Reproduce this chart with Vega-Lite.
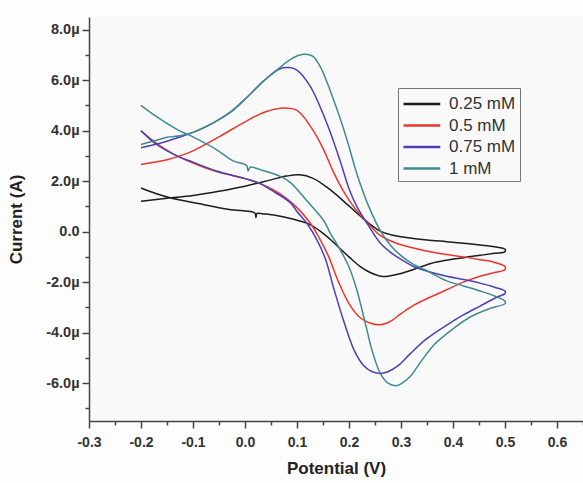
{
  "$schema": "https://vega.github.io/schema/vega-lite/v6.json",
  "width": 494,
  "height": 404,
  "autosize": {"type": "none"},
  "padding": {"left": 89, "top": 17, "right": 0, "bottom": 62},
  "background": "#fdfdfd",
  "config": {
    "view": {"stroke": null, "fill": "#f9f9f9"},
    "font": "Liberation Sans"
  },
  "datasets": {
    "cv": [
      {"s":"0.25 mM","i":0,"E":-0.2,"I":1.2},{"s":"0.25 mM","i":1,"E":-0.15,"I":1.32},{"s":"0.25 mM","i":2,"E":-0.1,"I":1.43},{"s":"0.25 mM","i":3,"E":-0.05,"I":1.6},{"s":"0.25 mM","i":4,"E":0.0,"I":1.8},{"s":"0.25 mM","i":5,"E":0.05,"I":2.05},{"s":"0.25 mM","i":6,"E":0.08,"I":2.2},{"s":"0.25 mM","i":7,"E":0.105,"I":2.25},{"s":"0.25 mM","i":8,"E":0.13,"I":2.12},{"s":"0.25 mM","i":9,"E":0.16,"I":1.72},{"s":"0.25 mM","i":10,"E":0.19,"I":1.2},{"s":"0.25 mM","i":11,"E":0.215,"I":0.74},{"s":"0.25 mM","i":12,"E":0.24,"I":0.3},{"s":"0.25 mM","i":13,"E":0.26,"I":0.02},{"s":"0.25 mM","i":14,"E":0.28,"I":-0.12},{"s":"0.25 mM","i":15,"E":0.3,"I":-0.2},{"s":"0.25 mM","i":16,"E":0.324,"I":-0.27},{"s":"0.25 mM","i":17,"E":0.35,"I":-0.33},{"s":"0.25 mM","i":18,"E":0.388,"I":-0.4},{"s":"0.25 mM","i":19,"E":0.42,"I":-0.46},{"s":"0.25 mM","i":20,"E":0.452,"I":-0.53},{"s":"0.25 mM","i":21,"E":0.48,"I":-0.6},{"s":"0.25 mM","i":22,"E":0.5,"I":-0.7},
      {"s":"0.25 mM","i":23,"E":0.5,"I":-0.8},{"s":"0.25 mM","i":24,"E":0.48,"I":-0.86},{"s":"0.25 mM","i":25,"E":0.452,"I":-0.94},{"s":"0.25 mM","i":26,"E":0.42,"I":-1.03},{"s":"0.25 mM","i":27,"E":0.388,"I":-1.13},{"s":"0.25 mM","i":28,"E":0.356,"I":-1.27},{"s":"0.25 mM","i":29,"E":0.324,"I":-1.5},{"s":"0.25 mM","i":30,"E":0.3,"I":-1.66},{"s":"0.25 mM","i":31,"E":0.28,"I":-1.75},{"s":"0.25 mM","i":32,"E":0.265,"I":-1.78},{"s":"0.25 mM","i":33,"E":0.25,"I":-1.7},{"s":"0.25 mM","i":34,"E":0.235,"I":-1.56},{"s":"0.25 mM","i":35,"E":0.221,"I":-1.38},{"s":"0.25 mM","i":36,"E":0.2,"I":-1.0},{"s":"0.25 mM","i":37,"E":0.183,"I":-0.68},{"s":"0.25 mM","i":38,"E":0.17,"I":-0.42},{"s":"0.25 mM","i":39,"E":0.151,"I":-0.08},{"s":"0.25 mM","i":40,"E":0.125,"I":0.28},{"s":"0.25 mM","i":41,"E":0.087,"I":0.52},{"s":"0.25 mM","i":42,"E":0.06,"I":0.64},{"s":"0.25 mM","i":43,"E":0.035,"I":0.7},{"s":"0.25 mM","i":44,"E":0.023,"I":0.72},{"s":"0.25 mM","i":45,"E":0.021,"I":0.56},{"s":"0.25 mM","i":46,"E":0.019,"I":0.74},{"s":"0.25 mM","i":47,"E":-0.03,"I":0.88},{"s":"0.25 mM","i":48,"E":-0.087,"I":1.1},{"s":"0.25 mM","i":49,"E":-0.144,"I":1.34},{"s":"0.25 mM","i":50,"E":-0.17,"I":1.5},{"s":"0.25 mM","i":51,"E":-0.2,"I":1.73},

      {"s":"0.5 mM","i":0,"E":-0.2,"I":2.66},{"s":"0.5 mM","i":1,"E":-0.15,"I":2.85},{"s":"0.5 mM","i":2,"E":-0.125,"I":3.0},{"s":"0.5 mM","i":3,"E":-0.1,"I":3.2},{"s":"0.5 mM","i":4,"E":-0.05,"I":3.75},{"s":"0.5 mM","i":5,"E":0.0,"I":4.35},{"s":"0.5 mM","i":6,"E":0.04,"I":4.75},{"s":"0.5 mM","i":7,"E":0.075,"I":4.9},{"s":"0.5 mM","i":8,"E":0.1,"I":4.8},{"s":"0.5 mM","i":9,"E":0.125,"I":4.2},{"s":"0.5 mM","i":10,"E":0.15,"I":3.3},{"s":"0.5 mM","i":11,"E":0.167,"I":2.5},{"s":"0.5 mM","i":12,"E":0.18,"I":1.95},{"s":"0.5 mM","i":13,"E":0.2,"I":1.25},{"s":"0.5 mM","i":14,"E":0.224,"I":0.6},{"s":"0.5 mM","i":15,"E":0.24,"I":0.25},{"s":"0.5 mM","i":16,"E":0.26,"I":-0.15},{"s":"0.5 mM","i":17,"E":0.29,"I":-0.45},{"s":"0.5 mM","i":18,"E":0.324,"I":-0.65},{"s":"0.5 mM","i":19,"E":0.356,"I":-0.8},{"s":"0.5 mM","i":20,"E":0.388,"I":-0.91},{"s":"0.5 mM","i":21,"E":0.42,"I":-1.0},{"s":"0.5 mM","i":22,"E":0.452,"I":-1.11},{"s":"0.5 mM","i":23,"E":0.48,"I":-1.22},{"s":"0.5 mM","i":24,"E":0.5,"I":-1.38},
      {"s":"0.5 mM","i":25,"E":0.5,"I":-1.5},{"s":"0.5 mM","i":26,"E":0.48,"I":-1.62},{"s":"0.5 mM","i":27,"E":0.452,"I":-1.77},{"s":"0.5 mM","i":28,"E":0.42,"I":-2.0},{"s":"0.5 mM","i":29,"E":0.388,"I":-2.3},{"s":"0.5 mM","i":30,"E":0.356,"I":-2.6},{"s":"0.5 mM","i":31,"E":0.324,"I":-2.92},{"s":"0.5 mM","i":32,"E":0.3,"I":-3.25},{"s":"0.5 mM","i":33,"E":0.28,"I":-3.55},{"s":"0.5 mM","i":34,"E":0.26,"I":-3.69},{"s":"0.5 mM","i":35,"E":0.24,"I":-3.62},{"s":"0.5 mM","i":36,"E":0.221,"I":-3.4},{"s":"0.5 mM","i":37,"E":0.2,"I":-2.85},{"s":"0.5 mM","i":38,"E":0.18,"I":-2.0},{"s":"0.5 mM","i":39,"E":0.16,"I":-0.95},{"s":"0.5 mM","i":40,"E":0.14,"I":-0.15},{"s":"0.5 mM","i":41,"E":0.125,"I":0.35},{"s":"0.5 mM","i":42,"E":0.1,"I":0.95},{"s":"0.5 mM","i":43,"E":0.067,"I":1.5},{"s":"0.5 mM","i":44,"E":0.03,"I":1.9},{"s":"0.5 mM","i":45,"E":0.0,"I":2.1},{"s":"0.5 mM","i":46,"E":-0.055,"I":2.38},{"s":"0.5 mM","i":47,"E":-0.1,"I":2.72},{"s":"0.5 mM","i":48,"E":-0.131,"I":3.0},{"s":"0.5 mM","i":49,"E":-0.17,"I":3.5},{"s":"0.5 mM","i":50,"E":-0.2,"I":3.98},

      {"s":"0.75 mM","i":0,"E":-0.2,"I":3.32},{"s":"0.75 mM","i":1,"E":-0.15,"I":3.58},{"s":"0.75 mM","i":2,"E":-0.125,"I":3.75},{"s":"0.75 mM","i":3,"E":-0.1,"I":3.93},{"s":"0.75 mM","i":4,"E":-0.061,"I":4.31},{"s":"0.75 mM","i":5,"E":-0.03,"I":4.7},{"s":"0.75 mM","i":6,"E":0.003,"I":5.3},{"s":"0.75 mM","i":7,"E":0.035,"I":5.95},{"s":"0.75 mM","i":8,"E":0.067,"I":6.45},{"s":"0.75 mM","i":9,"E":0.085,"I":6.5},{"s":"0.75 mM","i":10,"E":0.1,"I":6.4},{"s":"0.75 mM","i":11,"E":0.125,"I":5.77},{"s":"0.75 mM","i":12,"E":0.157,"I":4.31},{"s":"0.75 mM","i":13,"E":0.183,"I":2.8},{"s":"0.75 mM","i":14,"E":0.2,"I":1.7},{"s":"0.75 mM","i":15,"E":0.215,"I":1.0},{"s":"0.75 mM","i":16,"E":0.234,"I":0.35},{"s":"0.75 mM","i":17,"E":0.26,"I":-0.45},{"s":"0.75 mM","i":18,"E":0.28,"I":-0.82},{"s":"0.75 mM","i":19,"E":0.3,"I":-1.1},{"s":"0.75 mM","i":20,"E":0.324,"I":-1.38},{"s":"0.75 mM","i":21,"E":0.356,"I":-1.6},{"s":"0.75 mM","i":22,"E":0.388,"I":-1.77},{"s":"0.75 mM","i":23,"E":0.42,"I":-1.9},{"s":"0.75 mM","i":24,"E":0.452,"I":-2.04},{"s":"0.75 mM","i":25,"E":0.48,"I":-2.2},{"s":"0.75 mM","i":26,"E":0.5,"I":-2.35},
      {"s":"0.75 mM","i":27,"E":0.5,"I":-2.45},{"s":"0.75 mM","i":28,"E":0.484,"I":-2.6},{"s":"0.75 mM","i":29,"E":0.452,"I":-2.95},{"s":"0.75 mM","i":30,"E":0.42,"I":-3.3},{"s":"0.75 mM","i":31,"E":0.388,"I":-3.7},{"s":"0.75 mM","i":32,"E":0.349,"I":-4.25},{"s":"0.75 mM","i":33,"E":0.317,"I":-4.85},{"s":"0.75 mM","i":34,"E":0.295,"I":-5.3},{"s":"0.75 mM","i":35,"E":0.275,"I":-5.55},{"s":"0.75 mM","i":36,"E":0.26,"I":-5.62},{"s":"0.75 mM","i":37,"E":0.245,"I":-5.55},{"s":"0.75 mM","i":38,"E":0.228,"I":-5.3},{"s":"0.75 mM","i":39,"E":0.21,"I":-4.7},{"s":"0.75 mM","i":40,"E":0.189,"I":-3.49},{"s":"0.75 mM","i":41,"E":0.17,"I":-2.2},{"s":"0.75 mM","i":42,"E":0.155,"I":-1.1},{"s":"0.75 mM","i":43,"E":0.138,"I":-0.32},{"s":"0.75 mM","i":44,"E":0.12,"I":0.3},{"s":"0.75 mM","i":45,"E":0.1,"I":0.8},{"s":"0.75 mM","i":46,"E":0.087,"I":1.15},{"s":"0.75 mM","i":47,"E":0.05,"I":1.65},{"s":"0.75 mM","i":48,"E":0.029,"I":1.9},{"s":"0.75 mM","i":49,"E":0.0,"I":2.1},{"s":"0.75 mM","i":50,"E":-0.055,"I":2.4},{"s":"0.75 mM","i":51,"E":-0.1,"I":2.75},{"s":"0.75 mM","i":52,"E":-0.131,"I":3.0},{"s":"0.75 mM","i":53,"E":-0.17,"I":3.45},{"s":"0.75 mM","i":54,"E":-0.2,"I":4.0},

      {"s":"1 mM","i":0,"E":-0.2,"I":3.45},{"s":"1 mM","i":1,"E":-0.17,"I":3.62},{"s":"1 mM","i":2,"E":-0.15,"I":3.74},{"s":"1 mM","i":3,"E":-0.125,"I":3.8},{"s":"1 mM","i":4,"E":-0.1,"I":3.93},{"s":"1 mM","i":5,"E":-0.061,"I":4.31},{"s":"1 mM","i":6,"E":-0.03,"I":4.7},{"s":"1 mM","i":7,"E":0.003,"I":5.3},{"s":"1 mM","i":8,"E":0.035,"I":5.95},{"s":"1 mM","i":9,"E":0.067,"I":6.5},{"s":"1 mM","i":10,"E":0.09,"I":6.85},{"s":"1 mM","i":11,"E":0.112,"I":7.02},{"s":"1 mM","i":12,"E":0.13,"I":6.95},{"s":"1 mM","i":13,"E":0.144,"I":6.56},{"s":"1 mM","i":14,"E":0.17,"I":5.24},{"s":"1 mM","i":15,"E":0.196,"I":3.65},{"s":"1 mM","i":16,"E":0.212,"I":2.5},{"s":"1 mM","i":17,"E":0.221,"I":1.93},{"s":"1 mM","i":18,"E":0.24,"I":0.9},{"s":"1 mM","i":19,"E":0.26,"I":0.05},{"s":"1 mM","i":20,"E":0.28,"I":-0.55},{"s":"1 mM","i":21,"E":0.3,"I":-0.95},{"s":"1 mM","i":22,"E":0.324,"I":-1.3},{"s":"1 mM","i":23,"E":0.345,"I":-1.5},{"s":"1 mM","i":24,"E":0.388,"I":-1.95},{"s":"1 mM","i":25,"E":0.42,"I":-2.15},{"s":"1 mM","i":26,"E":0.452,"I":-2.35},{"s":"1 mM","i":27,"E":0.48,"I":-2.55},{"s":"1 mM","i":28,"E":0.5,"I":-2.75},
      {"s":"1 mM","i":29,"E":0.5,"I":-2.85},{"s":"1 mM","i":30,"E":0.47,"I":-3.05},{"s":"1 mM","i":31,"E":0.433,"I":-3.38},{"s":"1 mM","i":32,"E":0.4,"I":-3.85},{"s":"1 mM","i":33,"E":0.365,"I":-4.45},{"s":"1 mM","i":34,"E":0.34,"I":-5.1},{"s":"1 mM","i":35,"E":0.317,"I":-5.75},{"s":"1 mM","i":36,"E":0.3,"I":-6.03},{"s":"1 mM","i":37,"E":0.29,"I":-6.1},{"s":"1 mM","i":38,"E":0.275,"I":-6.0},{"s":"1 mM","i":39,"E":0.26,"I":-5.6},{"s":"1 mM","i":40,"E":0.245,"I":-4.75},{"s":"1 mM","i":41,"E":0.231,"I":-3.6},{"s":"1 mM","i":42,"E":0.215,"I":-2.3},{"s":"1 mM","i":43,"E":0.2,"I":-1.4},{"s":"1 mM","i":44,"E":0.18,"I":-0.6},{"s":"1 mM","i":45,"E":0.165,"I":-0.1},{"s":"1 mM","i":46,"E":0.151,"I":0.45},{"s":"1 mM","i":47,"E":0.12,"I":1.2},{"s":"1 mM","i":48,"E":0.087,"I":1.95},{"s":"1 mM","i":49,"E":0.067,"I":2.2},{"s":"1 mM","i":50,"E":0.03,"I":2.45},{"s":"1 mM","i":51,"E":0.01,"I":2.55},{"s":"1 mM","i":52,"E":0.006,"I":2.4},{"s":"1 mM","i":53,"E":0.003,"I":2.62},{"s":"1 mM","i":54,"E":-0.023,"I":2.8},{"s":"1 mM","i":55,"E":-0.055,"I":3.25},{"s":"1 mM","i":56,"E":-0.1,"I":3.75},{"s":"1 mM","i":57,"E":-0.131,"I":4.05},{"s":"1 mM","i":58,"E":-0.17,"I":4.55},{"s":"1 mM","i":59,"E":-0.2,"I":5.0}
    ]
  },
  "data": {"name": "cv"},
  "mark": {"type": "line", "interpolate": "catmull-rom", "strokeWidth": 1.5, "strokeJoin": "round"},
  "encoding": {
    "x": {
      "field": "E", "type": "quantitative",
      "scale": {"domain": [-0.3, 0.65], "nice": false, "zero": false},
      "axis": {
        "title": "Potential (V)",
        "values": [-0.3,-0.25,-0.2,-0.15,-0.1,-0.05,0,0.05,0.1,0.15,0.2,0.25,0.3,0.35,0.4,0.45,0.5,0.55,0.6,0.65],
        "labelExpr": "abs(round(datum.value*20)) % 2 == 1 ? '' : ((datum.value < -0.001 ? '-' : '') + format(abs(datum.value), '.1f'))",
        "tickSize": {"condition": {"test": "abs(round(datum.value*20)) % 2 == 1", "value": 4}, "value": 7},
        "grid": false,
        "domainColor": "#444", "domainWidth": 1.5,
        "tickColor": "#444", "tickWidth": 1.5,
        "labelFont": "Liberation Sans", "labelFontWeight": "bold", "labelFontSize": 14, "labelColor": "#333",
        "labelPadding": 7, "labelFlush": false, "labelOverlap": false,
        "titleFont": "Liberation Sans", "titleFontWeight": "bold", "titleFontSize": 17, "titleColor": "#222",
        "titlePadding": 11
      }
    },
    "y": {
      "field": "I", "type": "quantitative",
      "scale": {"domain": [-7.5, 8.5], "nice": false, "zero": false},
      "axis": {
        "title": "Current (A)",
        "values": [-7,-6,-5,-4,-3,-2,-1,0,1,2,3,4,5,6,7,8],
        "labelExpr": "abs(datum.value) % 2 == 1 ? '' : (datum.value == 0 ? '0.0' : ((datum.value < 0 ? '-' : '') + format(abs(datum.value), '.1f') + 'µ'))",
        "tickSize": {"condition": {"test": "abs(datum.value) % 2 == 1", "value": 4}, "value": 7},
        "grid": false,
        "domainColor": "#444", "domainWidth": 1.5,
        "tickColor": "#444", "tickWidth": 1.5,
        "labelFont": "Liberation Sans", "labelFontWeight": "bold", "labelFontSize": 14.5, "labelColor": "#333",
        "labelPadding": 3, "labelFlush": false, "labelOverlap": false,
        "titleFont": "Liberation Sans", "titleFontWeight": "bold", "titleFontSize": 17, "titleColor": "#222",
        "titleX": -64
      }
    },
    "color": {
      "field": "s", "type": "nominal",
      "scale": {"domain": ["0.25 mM", "0.5 mM", "0.75 mM", "1 mM"], "range": ["#1c1c1c", "#e8372e", "#4b40b4", "#3f8b90"]},
      "legend": {
        "title": null,
        "orient": "none", "legendX": 309, "legendY": 71,
        "symbolType": "M-1,0H2.5", "symbolSize": 441, "symbolStrokeWidth": 2.5,
        "labelFont": "Liberation Sans", "labelFontSize": 17, "labelColor": "#333",
        "strokeColor": "#777", "fillColor": "#f9f9f9", "padding": 4,
        "rowPadding": 1.5, "labelOffset": 23
      }
    },
    "order": {"field": "i", "type": "quantitative"}
  }
}
